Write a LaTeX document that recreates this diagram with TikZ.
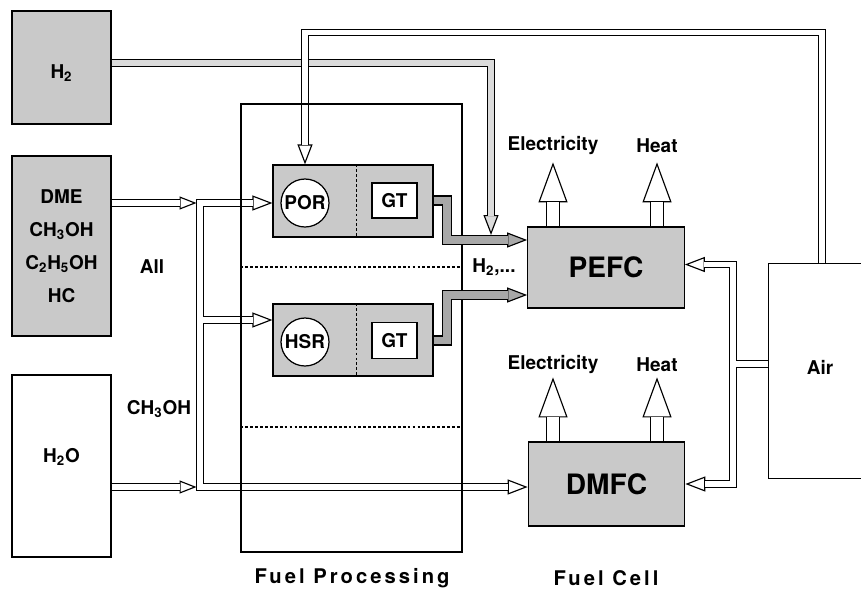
\documentclass[tikz,border=0pt]{standalone}
\usepackage{fontspec}
\setmainfont{TeX Gyre Heros}
\newfontfamily\spacedfont[LetterSpace=15]{TeX Gyre Heros}
\usetikzlibrary{arrows.meta,calc}
\definecolor{boxgray}{gray}{0.79}
\definecolor{gtgray}{gray}{0.66}
\definecolor{htwogray}{gray}{0.86}

\begin{document}
\begin{tikzpicture}[x=0.02cm, y=-0.02cm,
	every node/.style={font=\fontsize{10.8}{13}\selectfont\bfseries},
	box/.style={draw, fill=boxgray, line width=0.7pt, inner sep=0pt},
	cell/.style={box, minimum width=3.13cm, font=\fontsize{16}{19}\selectfont\bfseries},
	reactor/.style={draw, fill=white, circle, line width=0.7pt, minimum size=0.96cm, inner sep=0pt},
	pipe/.style={draw, line width=0.65pt, double=#1, double distance=0.11cm}, pipe/.default=white,
	gtpipe/.style={draw, line width=0.65pt, double=gtgray, double distance=0.155cm},
	outflow/.style={draw, line width=0.65pt, double=white, double distance=0.23cm},
	tip/.style={line width=0.65pt, -{Triangle[length=0.4cm, width=0.3cm, fill=#1]}}, tip/.default=white,
	stip/.style={line width=0.65pt, -{Triangle[length=0.34cm, width=0.26cm, fill=white]}},
	outtip/.style={line width=0.65pt, -{Triangle[length=0.8cm, width=0.58cm, fill=white]}},
	sep/.style={line width=0.6pt, dash pattern=on 1.6pt off 1.2pt},
	caption/.style={font=\spacedfont\bfseries\fontsize{11.5}{14}\selectfont}]
	\useasboundingbox (0,0) rectangle (861,592);
	\node[box, minimum width=1.98cm, minimum height=2.26cm, text height=12.8pt, text depth=0pt] (h2) at (61.5,67.5) {H\textsubscript{2}};
	\node[box, minimum width=1.98cm, minimum height=3.6cm, align=center, font=\fontsize{10.8}{18.7}\selectfont\bfseries] (fuels) at (61.5,246) {DME\\CH\textsubscript{3}OH\\C\textsubscript{2}H\textsubscript{5}OH\\HC};
	\node[box, fill=white, minimum width=1.98cm, minimum height=3.64cm, text height=8pt, text depth=11.5pt] (h2o) at (61.5,466) {H\textsubscript{2}O};
	\node[box, draw=none, fill=white, minimum width=1.84cm, minimum height=4.28cm] (air) at (815,371) {};
	\draw[line width=0.7pt] (air.north -| 861,0) -- (air.north west) -- (air.south west) -- (air.south -| 861,0);
	\node (airlbl) at (820,367) {Air};
	\node[cell, minimum height=1.62cm] (pefc) at (606,267.5) {PEFC};
	\node[cell, minimum height=1.68cm] (dmfc) at (606.5,484) {DMFC};
	\node[box, minimum width=3.2cm, minimum height=1.44cm] (porbox) at (353,201) {};
	\node[box, minimum width=3.2cm, minimum height=1.44cm] (hsrbox) at (353,340) {};
	\draw[sep] ($(porbox.north west)+(84,0)$) -- ($(porbox.south west)+(84,0)$);
	\draw[sep] ($(hsrbox.north west)+(84,0)$) -- ($(hsrbox.south west)+(84,0)$);
	\node[reactor] (porc) at (305,203) {POR};
	\node[reactor] (hsrc) at (305,342) {HSR};
	\node[box, fill=white, minimum width=0.9cm, minimum height=0.7cm] (gt1) at (394.5,200.5) {GT};
	\node[box, fill=white, minimum width=0.9cm, minimum height=0.72cm] (gt2) at (394.5,340.5) {GT};
	\node (all) at (152,267) {All};
	\node (meoh) at (159,409) {CH\textsubscript{3}OH};
	\node (elec1) at (553,146) {Electricity};
	\node (heat1) at (657,146) {Heat};
	\node (elec2) at (553,365) {Electricity};
	\node (heat2) at (657,365) {Heat};
	\node (hlbl) at (494,267) {H\textsubscript{2},...};
	\coordinate (h2x) at (491,63);
	\coordinate (ftop) at (200,203);
	\coordinate (fmid) at (200,320);
	\coordinate (fbot) at (200,487);
	\coordinate (atop) at (733,264.5);
	\coordinate (amid) at (733,364);
	\coordinate (abot) at (733,484);
	\coordinate (g1) at (447,240);
	\coordinate (g2) at (447,295);
	\draw[outtip] ($(pefc.north -| elec1)+(0,-24)$) -- ++(0,-40);
	\draw[outtip] ($(pefc.north -| heat1)+(0,-24)$) -- ++(0,-40);
	\draw[outtip] ($(dmfc.north -| elec2)+(0,-24)$) -- ++(0,-40);
	\draw[outtip] ($(dmfc.north -| heat2)+(0,-24)$) -- ++(0,-40);
	\draw[outflow] (pefc.north -| elec1) -- ++(0,-24.5);
	\draw[outflow] (pefc.north -| heat1) -- ++(0,-24.5);
	\draw[outflow] (dmfc.north -| elec2) -- ++(0,-24.5);
	\draw[outflow] (dmfc.north -| heat2) -- ++(0,-24.5);
	\draw[tip=htwogray] ($(h2x |- g1)+(0,-25)$) -- ($(h2x |- g1)+(0,-5)$);
	\draw[pipe=htwogray] (h2.east |- h2x) -- (h2x) -- ($(h2x |- g1)+(0,-24.5)$);
	\draw[tip] ($(porc |- porbox.north)+(0,-20)$) -- (porc |- porbox.north);
	\draw[pipe] (air.north -| airlbl) ++(2,0) -- ++(0,-231) -| ($(porc |- porbox.north)+(0,-19.5)$);
	\draw[stip] ($(ftop)+(-20.5,0)$) -- ($(ftop)+(-3.5,0)$);
	\draw[stip] ($(fbot)+(-20.5,0)$) -- ($(fbot)+(-3.5,0)$);
	\draw[pipe] (fuels.east |- ftop) -- ($(ftop)+(-20,0)$);
	\draw[pipe] (h2o.east |- fbot) -- ($(fbot)+(-20,0)$);
	\draw[tip] ($(porbox.west |- ftop)+(-20,0)$) -- (porbox.west |- ftop);
	\draw[tip] ($(hsrbox.west |- fmid)+(-20,0)$) -- (hsrbox.west |- fmid);
	\draw[tip] ($(dmfc.west |- fbot)+(-20,0)$) -- (dmfc.west |- fbot);
	\draw[pipe] ($(porbox.west |- ftop)+(-19.5,0)$) -- (ftop) -- (fbot) -- ($(dmfc.west |- fbot)+(-19.5,0)$) (fmid) -- ($(hsrbox.west |- fmid)+(-19.5,0)$);
	\draw[tip] ($(pefc.east |- atop)+(20,0)$) -- (pefc.east |- atop);
	\draw[tip] ($(dmfc.east |- abot)+(20,0)$) -- (dmfc.east |- abot);
	\draw[pipe] ($(pefc.east |- atop)+(19.5,0)$) -- (atop) -- (abot) -- ($(dmfc.east |- abot)+(19.5,0)$) (air.west |- amid) -- (amid);
	\node[draw, line width=0.7pt, minimum width=4.42cm, minimum height=8.96cm, inner sep=0pt] (fp) at (351.5,328) {};
	\draw[sep] (fp.west |- 0,267) -- (fp.east |- 0,267);
	\draw[sep] (fp.west |- 0,427) -- (fp.east |- 0,427);
	\draw[tip=gtgray] ($(pefc.west |- g1)+(-20,0)$) -- (pefc.west |- g1);
	\draw[tip=gtgray] ($(pefc.west |- g2)+(-20,0)$) -- (pefc.west |- g2);
	\draw[gtpipe] (porbox.east |- gt1) -- (g1 |- gt1) -- (g1) -- ($(pefc.west |- g1)+(-19.5,0)$);
	\draw[gtpipe] (hsrbox.east |- gt2) -- (g2 |- gt2) -- (g2) -- ($(pefc.west |- g2)+(-19.5,0)$);
	\node[caption] (fpcap) at (352,578) {Fuel Processing};
	\node[caption] (fccap) at (606,578) {Fuel Cell};
\end{tikzpicture}
\end{document}
